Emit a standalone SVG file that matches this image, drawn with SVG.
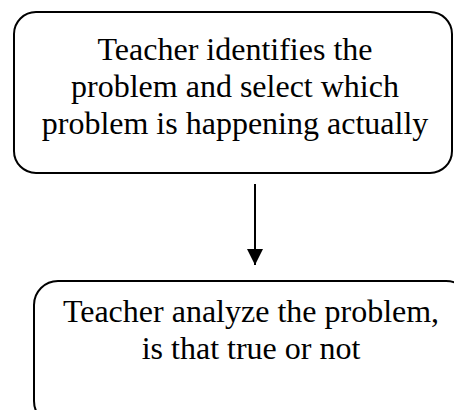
<svg xmlns="http://www.w3.org/2000/svg" width="454" height="410" viewBox="0 0 454 410">
<defs>
<style>
.box{fill:#fff;stroke:#000;stroke-width:2}
.t{font-family:"Liberation Serif","Times New Roman",serif;font-size:32px;fill:#000;text-anchor:middle}
.c{stroke:#000;stroke-width:2;fill:none}
</style>
<marker id="ah" viewBox="0 0 16 16" markerWidth="16" markerHeight="16" refX="16" refY="8" orient="auto" markerUnits="userSpaceOnUse">
<path d="M0,0 L16,8 L0,16 Z" fill="#000"/>
</marker>
</defs>
<rect width="454" height="410" fill="#fff"/>
<g id="node1">
<rect class="box" x="14" y="12" width="438" height="161" rx="22" ry="22"/>
<text class="t" x="235" y="60">Teacher identifies the</text>
<text class="t" x="235" y="97">problem and select which</text>
<text class="t" x="235" y="134">problem is happening actually</text>
</g>
<g id="connectors">
<line class="c" x1="255" y1="184" x2="255" y2="265" marker-end="url(#ah)"/>
</g>
<g id="node2">
<rect class="box" x="34" y="281" width="436" height="144" rx="24" ry="24"/>
<text class="t" x="251" y="322">Teacher analyze the problem,</text>
<text class="t" x="251" y="359">is that true or not</text>
</g>
</svg>
